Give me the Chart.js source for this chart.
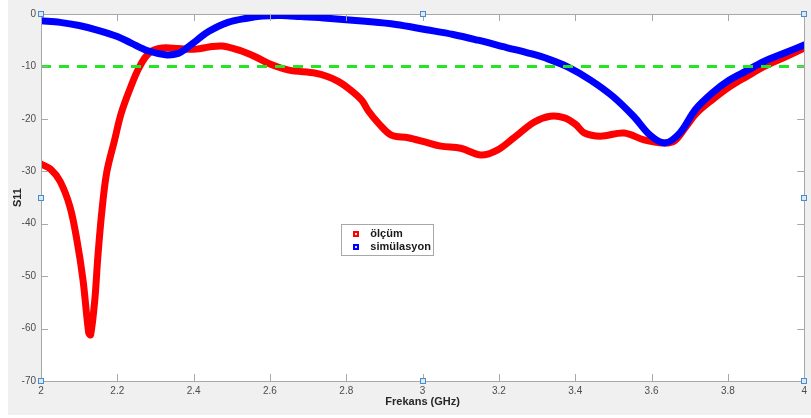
<!DOCTYPE html>
<html>
<head>
<meta charset="utf-8">
<script src="https://cdn.jsdelivr.net/npm/chart.js@4.4.1/dist/chart.umd.min.js"></script>
<style>
  html, body { margin: 0; padding: 0; background: #fff; }
  #wrap { width: 811px; height: 418px; }
</style>
</head>
<body>
<div id="wrap"><canvas id="grafik" width="811" height="418"></canvas></div>
<script>
// olcum (kirmizi)
const frekOlcum = [2.0, 2.025, 2.05, 2.076, 2.094, 2.11, 2.125, 2.13, 2.141, 2.149, 2.159, 2.172, 2.193, 2.21,
  2.232, 2.258, 2.284, 2.318, 2.36, 2.407, 2.44, 2.475, 2.519, 2.563, 2.605, 2.649, 2.72, 2.754, 2.78,
  2.806, 2.84, 2.858, 2.884, 2.918, 2.962, 3.006, 3.048, 3.1, 3.153, 3.197, 3.241, 3.293, 3.335, 3.372,
  3.4, 3.424, 3.466, 3.528, 3.58, 3.632, 3.66, 3.69, 3.718, 3.76, 3.804, 3.85, 3.893, 3.95, 4.0];
const s11Olcum = [-28.6, -29.6, -31.9, -36.8, -43.1, -50.7, -60.8, -61.2, -54.5, -46.3, -38, -30.3, -24, -19,
  -14.5, -10.1, -7.4, -6.5, -6.6, -6.7, -6.3, -6.1, -6.9, -8.2, -9.7, -10.7, -11.3, -12.0, -12.9,
  -14.2, -16.4, -18.5, -20.8, -23.1, -23.6, -24.4, -25.2, -25.6, -26.9, -25.9, -23.5, -20.6, -19.5, -19.8,
  -21.0, -22.7, -23.3, -22.7, -24.0, -24.6, -24.2, -21.5, -18.9, -16.3, -13.9, -11.9, -10.1, -8.2, -6.5];

// simulasyon (mavi)
const frekSim = [2.0, 2.05, 2.1, 2.154, 2.2, 2.235, 2.28, 2.33, 2.36, 2.38, 2.41, 2.44, 2.49, 2.54, 2.58,
  2.63, 2.68, 2.75, 2.85, 2.93, 3.01, 3.08, 3.145, 3.22, 3.28, 3.33, 3.38, 3.44, 3.5, 3.554, 3.596,
  3.635, 3.674, 3.715, 3.76, 3.804, 3.85, 3.893, 3.95, 4.0];
const s11Sim = [-1.3, -1.6, -2.2, -3.2, -4.3, -5.5, -7.0, -7.8, -7.5, -6.6, -4.9, -3.3, -1.6, -0.8, -0.4,
  -0.3, -0.5, -0.8, -1.4, -2.0, -3.0, -3.9, -5.0, -6.4, -7.5, -8.6, -10.1, -12.6, -15.8, -19.6, -23.1,
  -24.6, -22.7, -18.2, -15.0, -12.6, -10.8, -9.1, -7.4, -5.9];

// -10 dB referans cizgisi
const refFrek = [2, 4];
const refSeviye = [-10, -10];

const xTikler = [2, 2.2, 2.4, 2.6, 2.8, 3, 3.2, 3.4, 3.6, 3.8, 4];
const yTikler = [0, -10, -20, -30, -40, -50, -60, -70];

function noktalar(xs, ys) {
  return xs.map(function (x, i) { return { x: x, y: ys[i] }; });
}

// arka plan, cerceve, tikler, tutamaklar, eksen basliklari ve legend
const matlabCerceve = {
  id: 'matlabCerceve',
  beforeDraw(chart) {
    const c = chart.ctx;
    const a = chart.chartArea;
    c.save();
    c.fillStyle = '#ffffff';
    c.fillRect(0, 0, chart.width, chart.height);
    c.fillStyle = '#f0f0f0';
    c.fillRect(8, 0, chart.width - 8, 415);
    c.fillStyle = '#ffffff';
    c.fillRect(a.left, a.top, a.right - a.left, a.bottom - a.top);
    c.restore();
  },
  afterDraw(chart) {
    const c = chart.ctx;
    const a = chart.chartArea;
    const xs = chart.scales.x;
    const ys = chart.scales.y;
    c.save();
    c.strokeStyle = '#a8a8a8';
    c.lineWidth = 1;
    c.strokeRect(Math.round(a.left) + 0.5, Math.round(a.top) + 0.5,
      Math.round(a.right - a.left), Math.round(a.bottom - a.top));

    // iceri bakan tikler
    c.beginPath();
    xTikler.forEach(function (v) {
      const px = Math.round(xs.getPixelForValue(v)) + 0.5;
      c.moveTo(px, a.bottom); c.lineTo(px, a.bottom - 7);
      c.moveTo(px, a.top); c.lineTo(px, a.top + 7);
    });
    yTikler.forEach(function (v) {
      const py = Math.round(ys.getPixelForValue(v)) + 0.5;
      c.moveTo(a.left, py); c.lineTo(a.left + 7, py);
      c.moveTo(a.right, py); c.lineTo(a.right - 7, py);
    });
    c.stroke();

    // secim tutamaklari
    const mx = (a.left + a.right) / 2;
    const my = (a.top + a.bottom) / 2;
    const tut = [[a.left, a.top], [mx, a.top], [a.right, a.top], [a.left, my], [a.right, my],
      [a.left, a.bottom], [mx, a.bottom], [a.right, a.bottom]];
    tut.forEach(function (p) {
      c.fillStyle = '#dbe8f5';
      c.fillRect(Math.round(p[0]) - 2, Math.round(p[1]) - 2, 5, 5);
      c.strokeStyle = '#4a8cc8';
      c.strokeRect(Math.round(p[0]) - 2.5, Math.round(p[1]) - 2.5, 5, 5);
    });

    // eksen basliklari
    c.fillStyle = '#262626';
    c.font = 'bold 11px "Liberation Sans", Arial, sans-serif';
    c.textAlign = 'center';
    c.textBaseline = 'middle';
    c.fillText('Frekans (GHz)', mx, 402);
    c.translate(18, my);
    c.rotate(-Math.PI / 2);
    c.fillText('S11', 0, 0);
    c.setTransform(1, 0, 0, 1, 0, 0);

    // legend kutusu
    const lx = a.left + 0.3935 * (a.right - a.left);
    const ly = a.top + 0.571 * (a.bottom - a.top);
    c.fillStyle = '#ffffff';
    c.fillRect(lx, ly, 92, 31);
    c.strokeStyle = '#a8a8a8';
    c.strokeRect(Math.round(lx) + 0.5, Math.round(ly) + 0.5, 92, 31);
    const girdiler = [['ölçüm', '#ff0000'], ['simülasyon', '#0000ff']];
    girdiler.forEach(function (g, i) {
      const gy = ly + 10 + i * 13;
      c.fillStyle = g[1];
      c.fillRect(Math.round(lx + 12), Math.round(gy - 3), 6, 6);
      c.fillStyle = '#ffdede';
      if (i === 1) c.fillStyle = '#dedeff';
      c.fillRect(Math.round(lx + 14), Math.round(gy - 1), 2, 2);
      c.fillStyle = '#1a1a1a';
      c.textAlign = 'left';
      c.fillText(g[0], lx + 29, gy + 0.5);
    });
    c.restore();
  }
};

const grafik = new Chart(document.getElementById('grafik'), {
  type: 'line',
  data: {
    datasets: [{
      label: '-10 dB',
      data: noktalar(refFrek, refSeviye),
      borderColor: '#22e622',
      borderWidth: 3,
      borderDash: [10, 8],
      pointRadius: 0,
      tension: 0
    }, {
      label: 'simülasyon',
      data: noktalar(frekSim, s11Sim),
      borderColor: '#0000ff',
      borderWidth: 7,
      pointRadius: 0,
      tension: 0.35,
      borderCapStyle: 'round',
      borderJoinStyle: 'round'
    }, {
      label: 'ölçüm',
      data: noktalar(frekOlcum, s11Olcum),
      borderColor: '#ff0000',
      borderWidth: 7,
      pointRadius: 0,
      tension: 0.35,
      borderCapStyle: 'round',
      borderJoinStyle: 'round'
    }]
  },
  options: {
    responsive: false,
    animation: false,
    layout: { padding: { top: 14, right: 3, left: 0, bottom: 0 } },
    plugins: {
      legend: { display: false },
      tooltip: { enabled: false }
    },
    scales: {
      x: {
        type: 'linear',
        min: 2,
        max: 4,
        afterBuildTicks: function (s) { s.ticks = xTikler.map(function (v) { return { value: v }; }); },
        afterFit: function (s) { s.height = 37; },
        grid: { display: false, drawTicks: false },
        border: { display: false },
        ticks: {
          autoSkip: false,
          maxRotation: 0,
          padding: 4,
          color: '#4d4d4d',
          font: { family: '"Liberation Sans", Arial, sans-serif', size: 10 },
          callback: function (v) { return String(Math.round(v * 10) / 10); }
        }
      },
      y: {
        min: -70,
        max: 0,
        afterBuildTicks: function (s) { s.ticks = yTikler.map(function (v) { return { value: v }; }); },
        afterFit: function (s) { s.width = 41; },
        grid: { display: false, drawTicks: false },
        border: { display: false },
        ticks: {
          autoSkip: false,
          padding: 5,
          color: '#4d4d4d',
          font: { family: '"Liberation Sans", Arial, sans-serif', size: 10 }
        }
      }
    }
  },
  plugins: [matlabCerceve]
});
</script>
</body>
</html>
